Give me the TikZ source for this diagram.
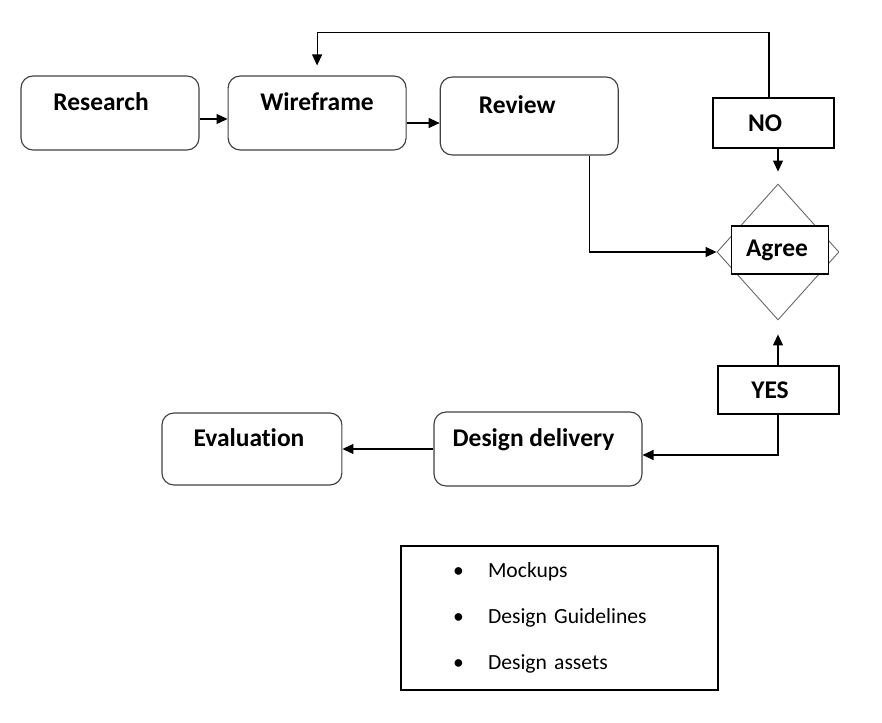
\documentclass[tikz,border=0pt]{standalone}
\usepackage{fontspec}
\setmainfont{Carlito}[Ligatures=NoCommon]
\usepackage{tikz}
\usetikzlibrary{positioning, arrows.meta, shapes.geometric}

\newcommand{\listbullet}{\hspace*{1.04cm}\makebox[0.7cm][l]{\textbullet}}

\begin{document}
\begin{tikzpicture}[
    x=0.02cm, y=-0.02cm,
    roundbox/.style={rectangle, rounded corners=0.24cm, draw=black!75, line width=0.65pt, minimum width=3.56cm, minimum height=1.48cm, inner sep=0pt, font=\fontsize{14.5}{17}\selectfont\bfseries, text height=0.35cm, text depth=0.45cm},
    squarebox/.style={rectangle, draw=black, line width=0.65pt, minimum width=2.42cm, minimum height=1cm, inner sep=0pt, font=\fontsize{14.5}{17}\selectfont\bfseries},
    decision/.style={diamond, draw=black!60, line width=0.5pt, minimum width=2.44cm, minimum height=2.72cm, inner sep=0pt},
    listbox/.style={rectangle, draw=black, line width=0.65pt, minimum width=6.34cm, minimum height=2.88cm, inner sep=0pt, text width=6.34cm, align=left, font=\fontsize{12.3}{15}\selectfont},
    arrowline/.style={-{Triangle[length=0.22cm, width=0.2cm]}, line width=0.65pt}
]
\useasboundingbox (0,0) rectangle (882,723);
\node[roundbox](research) at (110,113){Research\hspace*{0.36cm}};
\node[roundbox](wireframe)[right = 0.56cm of research]{Wireframe};
\node[roundbox, minimum height=1.56cm](review)[right = 0.66cm of wireframe, yshift=-0.06cm]{Review\hspace*{0.48cm}};
\node[decision](agreeshape) at (778,252){};
\node[squarebox, minimum width=1.94cm, minimum height=0.96cm, fill=white](agree) at (780,250){Agree\hspace*{0.12cm}};
\node[squarebox](no) at (773.5,123){NO\hspace*{0.34cm}};
\node[squarebox, minimum height=0.96cm](yes) at (778.5,390){YES\hspace*{0.34cm}};
\node[roundbox, minimum width=4.16cm](delivery) at (538,449){Design delivery\hspace*{0.18cm}};
\node[roundbox, minimum width=3.6cm, minimum height=1.44cm](evaluation)[left = 1.82cm of delivery]{Evaluation\hspace*{0.12cm}};
\node[listbox](deliverables) at (559.5,618){\listbullet Mockups\\[0.39cm]\listbullet Design Guidelines\\[0.39cm]\listbullet Design assets};

\draw[arrowline] ([yshift=-0.12cm]research.east) -- ([yshift=-0.12cm]wireframe.west);
\draw[arrowline] ([yshift=-0.2cm]wireframe.east) -- ([yshift=-0.2cm]wireframe.east -| review.west);
\draw[arrowline] ([xshift=1.2cm]review.south) |- (agreeshape.west);
\draw[arrowline] ([xshift=-0.09cm]no.north) |- ([yshift=0.86cm]wireframe.north) -- ([yshift=0.2cm]wireframe.north);
\draw[arrowline] (no.south -| agreeshape.north) -- ([yshift=0.24cm]agreeshape.north);
\draw[arrowline] (yes.north -| agreeshape.south) -- ([yshift=-0.28cm]agreeshape.south);
\draw[arrowline] (yes.south -| agreeshape.south) |- ([yshift=-0.12cm]delivery.east);
\draw[arrowline] (delivery.west) -- (evaluation.east);
\end{tikzpicture}
\end{document}
